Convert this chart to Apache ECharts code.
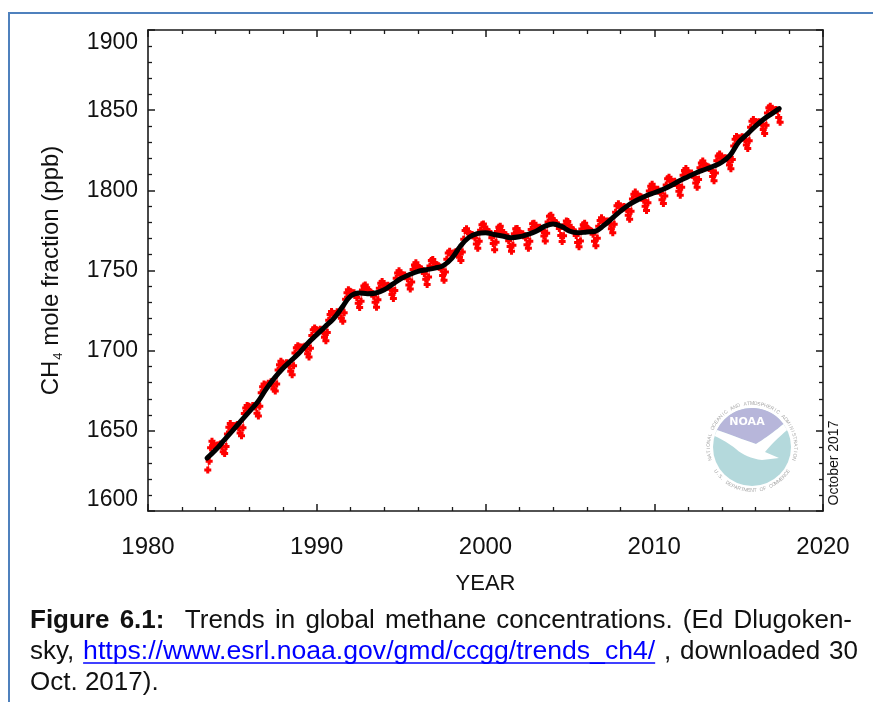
<!DOCTYPE html>
<html>
<head>
<meta charset="utf-8">
<script src="https://cdn.jsdelivr.net/npm/echarts@6/dist/echarts.min.js"></script>
<style>
html,body{margin:0;padding:0;background:#fff;}
#chart{width:873px;height:702px;}
</style>
</head>
<body>
<div id="chart"></div>
<script>
// ---- data ----
const monthlyStartYear = 1983;
const monthlyStartMonth = 7;
const ch4Monthly = [
  1625.5, 1631.0, 1639.5, 1643.5, 1642.0, 1640.0,
  1640.5, 1641.2, 1641.0, 1641.8, 1640.3, 1637.0, 1635.8, 1640.2, 1648.0, 1652.3, 1654.5, 1652.6,
  1652.8, 1653.2, 1653.1, 1653.9, 1652.0, 1648.7, 1646.9, 1652.0, 1660.8, 1664.2, 1665.8, 1665.3,
  1664.9, 1664.6, 1665.8, 1665.2, 1664.8, 1661.0, 1659.2, 1665.3, 1673.8, 1677.5, 1679.2, 1678.6,
  1678.3, 1679.6, 1679.5, 1680.6, 1679.0, 1676.1, 1674.8, 1679.2, 1687.9, 1691.2, 1693.4, 1692.3,
  1691.0, 1691.5, 1692.4, 1692.2, 1690.5, 1687.2, 1685.0, 1690.6, 1698.5, 1701.8, 1703.0, 1702.4,
  1701.6, 1702.3, 1702.0, 1702.8, 1701.2, 1698.0, 1696.1, 1701.5, 1709.4, 1713.0, 1714.1, 1713.2,
  1712.3, 1712.5, 1713.4, 1712.8, 1711.6, 1708.3, 1706.2, 1711.4, 1719.0, 1722.6, 1724.5, 1723.3,
  1722.8, 1723.1, 1724.2, 1723.8, 1723.5, 1720.2, 1718.3, 1723.6, 1732.1, 1736.2, 1738.0, 1737.1,
  1736.5, 1735.8, 1736.1, 1735.0, 1733.2, 1729.5, 1727.0, 1730.8, 1737.9, 1740.3, 1741.0, 1739.2,
  1737.8, 1736.9, 1736.5, 1735.6, 1734.0, 1730.2, 1727.1, 1731.8, 1738.9, 1742.0, 1743.2, 1741.5,
  1740.5, 1740.2, 1740.8, 1740.1, 1738.3, 1735.0, 1732.5, 1737.6, 1745.1, 1748.4, 1749.9, 1748.3,
  1747.4, 1747.0, 1747.2, 1746.3, 1744.8, 1741.0, 1738.4, 1742.9, 1750.6, 1753.5, 1754.8, 1752.9,
  1751.8, 1751.2, 1751.0, 1750.0, 1748.1, 1744.6, 1741.3, 1745.9, 1752.8, 1756.2, 1756.9, 1755.0,
  1753.7, 1753.5, 1752.9, 1752.2, 1750.8, 1746.9, 1743.9, 1749.0, 1757.0, 1760.9, 1762.0, 1760.5,
  1760.0, 1760.9, 1761.5, 1761.7, 1761.0, 1758.2, 1756.3, 1761.6, 1769.5, 1775.0, 1776.0, 1774.2,
  1772.9, 1772.4, 1772.5, 1771.8, 1770.2, 1766.5, 1763.8, 1768.3, 1775.1, 1778.5, 1779.0, 1777.2,
  1775.6, 1774.5, 1774.2, 1773.1, 1770.5, 1766.8, 1763.0, 1767.6, 1774.3, 1777.0, 1777.6, 1775.0,
  1773.6, 1772.5, 1772.3, 1770.8, 1768.6, 1764.9, 1762.0, 1765.8, 1772.9, 1776.1, 1776.2, 1774.4,
  1773.4, 1772.6, 1772.9, 1771.7, 1770.4, 1766.0, 1763.9, 1768.2, 1775.6, 1779.1, 1779.4, 1777.6,
  1776.9, 1776.5, 1777.0, 1776.0, 1774.9, 1771.5, 1768.4, 1773.2, 1780.3, 1783.8, 1784.5, 1782.2,
  1781.2, 1780.0, 1779.6, 1778.0, 1776.2, 1771.8, 1768.1, 1771.6, 1778.5, 1780.9, 1780.6, 1778.3,
  1776.7, 1775.5, 1775.3, 1773.6, 1771.9, 1767.5, 1764.8, 1768.4, 1775.9, 1778.6, 1779.5, 1777.3,
  1776.3, 1775.4, 1775.0, 1774.5, 1772.6, 1768.2, 1765.5, 1770.1, 1777.6, 1781.2, 1782.9, 1781.0,
  1780.5, 1780.8, 1780.6, 1780.9, 1779.2, 1776.0, 1773.5, 1778.9, 1786.3, 1790.4, 1791.7, 1789.8,
  1789.6, 1789.2, 1789.9, 1789.0, 1788.1, 1784.5, 1782.0, 1786.9, 1794.6, 1797.5, 1798.9, 1797.1,
  1796.5, 1796.3, 1796.0, 1795.2, 1793.8, 1790.0, 1787.5, 1792.3, 1799.6, 1802.5, 1803.8, 1801.6,
  1800.9, 1800.4, 1800.6, 1799.4, 1798.3, 1794.1, 1791.8, 1796.5, 1803.4, 1807.2, 1808.1, 1806.0,
  1805.5, 1805.1, 1805.6, 1804.4, 1803.0, 1799.5, 1797.0, 1801.9, 1809.4, 1812.3, 1813.6, 1811.5,
  1810.9, 1810.3, 1810.8, 1809.6, 1808.2, 1804.6, 1802.0, 1806.7, 1814.1, 1817.0, 1818.3, 1816.0,
  1815.4, 1815.0, 1814.6, 1814.0, 1812.4, 1808.6, 1806.0, 1810.8, 1818.5, 1821.4, 1822.6, 1820.9,
  1820.1, 1820.0, 1820.3, 1819.8, 1818.7, 1815.8, 1813.4, 1819.2, 1827.6, 1831.8, 1833.5, 1832.7,
  1832.6, 1832.5, 1833.4, 1832.6, 1831.5, 1828.3, 1826.1, 1831.0, 1839.4, 1843.1, 1844.2, 1843.0,
  1842.3, 1842.5, 1842.8, 1842.3, 1841.2, 1837.9, 1835.5, 1840.6, 1848.3, 1851.5, 1852.4, 1850.9,
  1850.2, 1849.8, 1850.4, 1849.6, 1845.5, 1842.5
];
const trendYears = [
  1983.5, 1984.0, 1984.5, 1985.0, 1985.5, 1986.0, 1986.5, 1987.0, 1987.5, 1988.0, 1988.5,
  1989.0, 1989.5, 1990.0, 1990.5, 1991.0, 1991.5, 1992.0, 1992.5, 1993.0, 1993.5,
  1994.0, 1994.5, 1995.0, 1995.5, 1996.0, 1996.5, 1997.0, 1997.5, 1998.0, 1998.5,
  1999.0, 1999.5, 2000.0, 2000.5, 2001.0, 2001.5, 2002.0, 2002.5, 2003.0, 2003.5,
  2004.0, 2004.5, 2005.0, 2005.5, 2006.0, 2006.5, 2007.0, 2007.5, 2008.0, 2008.5,
  2009.0, 2009.5, 2010.0, 2010.5, 2011.0, 2011.5, 2012.0, 2012.5, 2013.0, 2013.5,
  2014.0, 2014.5, 2015.0, 2015.5, 2016.0, 2016.5, 2017.0, 2017.4
];
const trendValues = [
  1633.0, 1638.0, 1644.0, 1650.0, 1656.0, 1662.0, 1668.0, 1676.0, 1683.0, 1689.0, 1694.0,
  1699.0, 1705.0, 1710.0, 1715.0, 1720.0, 1727.0, 1734.0, 1736.0, 1735.5, 1736.0,
  1738.0, 1741.5, 1745.0, 1747.5, 1749.5, 1750.5, 1751.5, 1753.0, 1757.5, 1765.0,
  1770.5, 1773.0, 1773.5, 1772.5, 1771.5, 1770.5, 1771.0, 1772.5, 1774.5, 1777.5,
  1779.0, 1777.5, 1774.5, 1773.5, 1774.0, 1774.5, 1778.0, 1782.5, 1787.0, 1791.0,
  1794.0, 1796.5, 1798.5, 1800.5, 1803.0, 1806.0, 1808.5, 1811.0, 1813.0, 1815.0,
  1817.5, 1822.0, 1830.0, 1835.0, 1840.0, 1844.5, 1848.0, 1851.0
];
const xTicks = { min: 1980, max: 2020, step: 10 };
const yTicks = { min: 1600, max: 1900, step: 50 };

// ---- build series data ----
const monthlyPoints = ch4Monthly.map((v, i) => [monthlyStartYear + (monthlyStartMonth - 1 + i + 0.5) / 12, v]);
const trendPoints = trendYears.map((y, i) => [y, trendValues[i]]);

const FONT = '"Liberation Sans", Arial, Helvetica, sans-serif';
const AX = '#1a1a1a';

function xAxisDef(pos, showLabel) {
  return {
    type: 'value', position: pos, min: xTicks.min, max: xTicks.max, interval: xTicks.step,
    axisLine: { show: true, onZero: false, lineStyle: { color: AX, width: 1.6 } },
    axisTick: { show: true, inside: true, length: 7, lineStyle: { color: AX, width: 1.5 } },
    minorTick: { show: true, splitNumber: 5, length: 4, lineStyle: { color: AX, width: 1.3 } },
    splitLine: { show: false }, minorSplitLine: { show: false },
    axisLabel: { show: showLabel, fontSize: 24, margin: 24, color: '#111', fontFamily: FONT, formatter: v => String(v) },
    name: showLabel ? 'YEAR' : '', nameLocation: 'middle', nameGap: 62,
    nameTextStyle: { fontSize: 22, color: '#111', fontFamily: FONT }
  };
}
function yAxisDef(pos, showLabel) {
  return {
    type: 'value', position: pos, min: yTicks.min, max: yTicks.max, interval: yTicks.step,
    axisLine: { show: true, onZero: false, lineStyle: { color: AX, width: 1.6 } },
    axisTick: { show: true, inside: true, length: 7, lineStyle: { color: AX, width: 1.5 } },
    minorTick: { show: true, splitNumber: 5, length: 4, lineStyle: { color: AX, width: 1.3 } },
    splitLine: { show: false }, minorSplitLine: { show: false },
    axisLabel: {
      show: showLabel, margin: 10, color: '#111', fontFamily: FONT, fontSize: 23,
      formatter: v => v === yTicks.max ? '{t|' + v + '}' : (v === yTicks.min ? '{b|' + v + '}' : '{n|' + v + '}'),
      rich: {
        n: { fontSize: 23, fontFamily: FONT, color: '#111' },
        t: { fontSize: 23, fontFamily: FONT, color: '#111', padding: [26, 0, 0, 0] },
        b: { fontSize: 23, fontFamily: FONT, color: '#111', padding: [0, 0, 22, 0] }
      }
    },
    name: showLabel ? '{a|CH}{s|4}{a| mole fraction (ppb)}' : '',
    nameLocation: 'middle', nameRotate: 90, nameGap: 83,
    nameTextStyle: {
      fontFamily: FONT, color: '#111',
      rich: {
        a: { fontSize: 24, fontFamily: FONT, color: '#111', lineHeight: 28 },
        s: { fontSize: 13, fontFamily: FONT, color: '#111', verticalAlign: 'bottom', lineHeight: 14, padding: [0, 0, 0, 1] }
      }
    }
  };
}

// ---- caption & decoration (text measured to place segments) ----
const mctx = document.createElement('canvas').getContext('2d');
function tw(str, size, bold) { mctx.font = (bold ? 'bold ' : '') + size + 'px ' + FONT; return mctx.measureText(str).width; }
const CAP = 26;
const LINKSIZE = 26.6;
const capX = 30;
const capY = [621, 652, 683];
// caption words: [text, bold, link]
const capLine1 = [['Figure', 1, 0], ['6.1:', 1, 0], ['', 0, 0], ['Trends', 0, 0], ['in', 0, 0], ['global', 0, 0], ['methane', 0, 0], ['concentrations.', 0, 0], ['(Ed', 0, 0], ['Dlugoken-', 0, 0]];
const capLine2 = [['sky,', 0, 0], ['https://www.esrl.noaa.gov/gmd/ccgg/trends_ch4/', 0, 1], [',', 0, 0], ['downloaded', 0, 0], ['30', 0, 0]];
const capLine3 = [['Oct.', 0, 0], ['2017).', 0, 0]];
const capRight = [852, 858, null];

function txt(str, x, y, opts) {
  opts = opts || {};
  return { type: 'text', x: x, y: y, silent: true,
    style: { text: str, fill: opts.fill || '#111', font: (opts.bold ? 'bold ' : '') + (opts.size || CAP) + 'px ' + FONT,
      textAlign: opts.align || 'left', textVerticalAlign: 'middle' } };
}

const graphics = [
  // blue frame
  { type: 'line', silent: true, shape: { x1: 8, y1: 13, x2: 873, y2: 13 }, style: { stroke: '#4f81bd', lineWidth: 2 } },
  { type: 'line', silent: true, shape: { x1: 9, y1: 12, x2: 9, y2: 702 }, style: { stroke: '#4f81bd', lineWidth: 2 } },
  // date stamp
  { type: 'text', silent: true, x: 834, y: 463, rotation: Math.PI / 2,
    style: { text: 'October 2017', fill: '#111', font: '14px ' + FONT, textAlign: 'center', textVerticalAlign: 'middle' } }
];

function layLine(words, y, right) {
  const sp = tw(' ', CAP, false);
  const sizes = words.map(w => w[2] ? LINKSIZE : CAP);
  const widths = words.map((w, i) => tw(w[0], sizes[i], !!w[1]));
  const natural = widths.reduce((a, b) => a + b, 0) + sp * (words.length - 1);
  const gaps = words.length - 1;
  const extra = (right != null && gaps > 0) ? Math.max(0, (right - capX - natural) / gaps) : 0;
  let x = capX;
  words.forEach((w, i) => {
    if (w[0]) graphics.push(txt(w[0], x, y, { bold: !!w[1], fill: w[2] ? '#0000ff' : '#111', size: sizes[i] }));
    if (w[2]) graphics.push({ type: 'line', silent: true, shape: { x1: x, y1: y + 11, x2: x + widths[i], y2: y + 11 }, style: { stroke: '#0000ff', lineWidth: 1.5 } });
    x += widths[i] + sp + extra;
  });
}
layLine(capLine1, capY[0], capRight[0]);
layLine(capLine2, capY[1], capRight[1]);
layLine(capLine3, capY[2], capRight[2]);

// NOAA emblem (decoration)
const LC = { x: 752, y: 447, r: 39 };
function quad(p0, c, p1, n) { const o = []; for (let i = 1; i <= n; i++) { const t = i / n, u = 1 - t; o.push([u*u*p0[0] + 2*u*t*c[0] + t*t*p1[0], u*u*p0[1] + 2*u*t*c[1] + t*t*p1[1]]); } return o; }
function arcPts(a0, a1, n) { const o = []; for (let i = 0; i <= n; i++) { const a = (a0 + (a1 - a0) * i / n) * Math.PI / 180; o.push([LC.x + LC.r * Math.cos(a), LC.y - LC.r * Math.sin(a)]); } return o; }
const pL = [716.9, 430], pR = [783.5, 424], pV = [756, 444];
const purplePts = arcPts(154.2, 36.1, 30).concat(quad(pR, [769, 436], pV, 10), quad(pV, [739, 438], pL, 10));
const birdPts = [pL].concat(
  quad(pL, [739, 438], pV, 10), quad(pV, [769, 436], pR, 10), [[787.1, 430]],
  quad([787.1, 430], [773, 442], [765, 452], 8), [[779, 458], [762, 460]],
  quad([762, 460], [746, 458], [736, 449], 8), quad([736, 449], [726, 441], [714.6, 436], 8));
graphics.push(
  { type: 'circle', silent: true, shape: { cx: LC.x, cy: LC.y, r: LC.r }, style: { fill: '#b4d9dc' } },
  { type: 'polygon', silent: true, shape: { points: purplePts }, style: { fill: '#b7b6da' } },
  { type: 'polygon', silent: true, shape: { points: birdPts }, style: { fill: '#ffffff' } },
  { type: 'text', silent: true, x: 747, y: 422, style: { text: 'NOAA', fill: '#ffffff', font: 'bold 11px "DejaVu Sans", sans-serif', textAlign: 'center', textVerticalAlign: 'middle' } }
);
function ringText(str, startDeg, endDeg, r, bottom) {
  const n = str.length;
  for (let i = 0; i < n; i++) {
    const deg = startDeg + (endDeg - startDeg) * (i + 0.5) / n;
    const th = deg * Math.PI / 180;
    const x = LC.x + r * Math.cos(th), y = LC.y - r * Math.sin(th);
    const rot = bottom ? th + Math.PI / 2 : th - Math.PI / 2;
    graphics.push({ type: 'text', silent: true, x: x, y: y, rotation: rot,
      style: { text: str[i], fill: '#a8a8a8', font: '5px ' + FONT, textAlign: 'center', textVerticalAlign: 'middle' } });
  }
}
ringText('NATIONAL OCEANIC AND ATMOSPHERIC ADMINISTRATION', 198, -18, 43.5, false);
ringText('U.S. DEPARTMENT OF COMMERCE', 212, 328, 43.5, true);

const chart = echarts.init(document.getElementById('chart'), null, { renderer: 'canvas' });
chart.setOption({
  animation: false,
  backgroundColor: '#ffffff',
  grid: { left: 148, right: 50, top: 30, bottom: 191, containLabel: false, outerBoundsMode: 'none' },
  xAxis: [xAxisDef('bottom', true), xAxisDef('top', false)],
  yAxis: [yAxisDef('left', true), yAxisDef('right', false)],
  series: [
    {
      type: 'line', xAxisIndex: 0, yAxisIndex: 0, data: monthlyPoints,
      symbol: 'path://M2,0H5V2H7V5H5V7H2V5H0V2H2Z', symbolSize: 7, showAllSymbol: true,
      lineStyle: { color: '#ff2020', width: 1, opacity: 0.85 },
      itemStyle: { color: '#ff0000', borderWidth: 0 }, z: 2, silent: true
    },
    {
      type: 'line', xAxisIndex: 0, yAxisIndex: 0, data: trendPoints,
      smooth: 0.4, symbol: 'none',
      lineStyle: { color: '#000000', width: 5, cap: 'round', join: 'round' }, z: 3, silent: true
    }
  ],
  graphic: graphics
});
</script>
</body>
</html>
